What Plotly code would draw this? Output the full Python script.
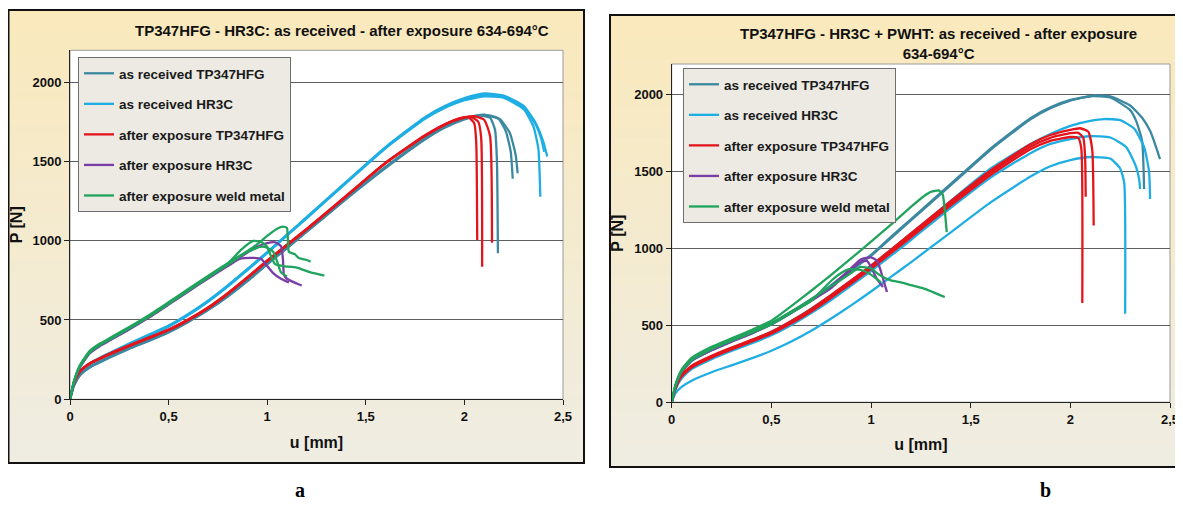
import plotly.graph_objects as go

# ---------------- DATA ----------------
# Panel a : TP347HFG - HR3C, as received / after exposure
a_recv_tp_u = [
    [0, 0.02, 0.05, 0.1, 0.2, 0.3, 0.4, 0.5, 0.6, 0.7, 0.8, 0.9, 1.0, 1.2, 1.4, 1.6, 1.8, 1.9, 2.0, 2.08, 2.13, 2.155, 2.165, 2.17],
    [0, 0.02, 0.05, 0.1, 0.2, 0.3, 0.4, 0.5, 0.6, 0.7, 0.8, 0.9, 1.0, 1.2, 1.4, 1.6, 1.8, 1.9, 2.0, 2.1, 2.17, 2.21, 2.235, 2.245],
    [0, 0.02, 0.05, 0.1, 0.2, 0.3, 0.4, 0.5, 0.6, 0.7, 0.8, 0.9, 1.0, 1.2, 1.4, 1.6, 1.8, 1.9, 2.0, 2.1, 2.18, 2.23, 2.26, 2.27],
]
a_recv_tp_p = [
    [0, 85, 150, 200, 262, 318, 368, 422, 488, 562, 648, 745, 850, 1055, 1262, 1458, 1638, 1712, 1765, 1788, 1775, 1700, 1500, 920],
    [0, 90, 155, 205, 268, 324, 374, 428, 494, 568, 654, 752, 856, 1062, 1268, 1465, 1645, 1720, 1772, 1795, 1772, 1690, 1560, 1390],
    [0, 88, 152, 202, 265, 321, 371, 425, 491, 565, 651, 748, 853, 1058, 1265, 1462, 1642, 1716, 1768, 1792, 1765, 1680, 1540, 1425],
]
a_recv_hr_u = [
    [0, 0.02, 0.05, 0.1, 0.2, 0.3, 0.4, 0.5, 0.6, 0.7, 0.8, 0.9, 1.0, 1.1, 1.2, 1.4, 1.6, 1.8, 1.9, 2.0, 2.1, 2.2, 2.3, 2.36, 2.4, 2.42],
    [0, 0.02, 0.05, 0.1, 0.2, 0.3, 0.4, 0.5, 0.6, 0.7, 0.8, 0.9, 1.0, 1.1, 1.2, 1.4, 1.6, 1.8, 1.9, 2.0, 2.1, 2.2, 2.3, 2.35, 2.375, 2.385],
    [0, 0.02, 0.05, 0.1, 0.2, 0.3, 0.4, 0.5, 0.6, 0.7, 0.8, 0.9, 1.0, 1.1, 1.2, 1.4, 1.6, 1.8, 1.9, 2.0, 2.1, 2.2, 2.3, 2.36, 2.39, 2.405],
]
a_recv_hr_p = [
    [0, 100, 175, 228, 292, 352, 408, 465, 538, 622, 718, 822, 928, 1038, 1148, 1370, 1590, 1778, 1848, 1898, 1928, 1915, 1850, 1745, 1625, 1530],
    [0, 95, 170, 222, 286, 346, 402, 458, 531, 615, 711, 815, 921, 1031, 1141, 1363, 1582, 1768, 1836, 1885, 1910, 1900, 1830, 1720, 1580, 1277],
    [0, 98, 172, 225, 289, 349, 405, 462, 535, 619, 715, 819, 925, 1035, 1145, 1366, 1586, 1772, 1842, 1892, 1918, 1910, 1842, 1735, 1640, 1560],
]
a_exp_tp_u = [
    [0, 0.02, 0.05, 0.1, 0.2, 0.3, 0.4, 0.5, 0.6, 0.7, 0.8, 0.9, 1.0, 1.2, 1.4, 1.6, 1.8, 1.9, 1.97, 2.02, 2.05, 2.06, 2.065],
    [0, 0.02, 0.05, 0.1, 0.2, 0.3, 0.4, 0.5, 0.6, 0.7, 0.8, 0.9, 1.0, 1.2, 1.4, 1.6, 1.8, 1.9, 1.97, 2.03, 2.07, 2.085, 2.09],
    [0, 0.02, 0.05, 0.1, 0.2, 0.3, 0.4, 0.5, 0.6, 0.7, 0.8, 0.9, 1.0, 1.2, 1.4, 1.6, 1.8, 1.9, 1.97, 2.05, 2.1, 2.13, 2.14],
]
a_exp_tp_p = [
    [0, 100, 175, 225, 285, 338, 388, 438, 502, 577, 667, 768, 873, 1072, 1280, 1490, 1662, 1732, 1765, 1778, 1740, 1620, 1004],
    [0, 98, 172, 222, 282, 335, 385, 435, 499, 574, 664, 765, 870, 1070, 1278, 1488, 1660, 1730, 1770, 1782, 1750, 1650, 836],
    [0, 102, 177, 227, 287, 340, 390, 440, 504, 579, 669, 770, 875, 1074, 1282, 1492, 1664, 1734, 1768, 1785, 1762, 1660, 987],
]
a_exp_hr_u = [
    [0, 0.02, 0.05, 0.1, 0.15, 0.2, 0.3, 0.4, 0.5, 0.6, 0.7, 0.8, 0.86, 0.92, 0.97, 1.0, 1.03, 1.07, 1.11],
    [0, 0.02, 0.05, 0.1, 0.15, 0.2, 0.3, 0.4, 0.5, 0.6, 0.7, 0.8, 0.9, 0.95, 1.0, 1.04, 1.07, 1.08, 1.085, 1.1, 1.15, 1.175],
]
a_exp_hr_p = [
    [0, 105, 200, 290, 335, 370, 440, 515, 597, 680, 762, 840, 885, 892, 885, 840, 796, 760, 737],
    [0, 108, 203, 292, 338, 373, 443, 518, 600, 683, 765, 845, 925, 962, 985, 990, 965, 880, 785, 760, 730, 717],
]
a_exp_wm_u = [
    [0, 0.02, 0.05, 0.1, 0.15, 0.2, 0.3, 0.4, 0.5, 0.6, 0.7, 0.8, 0.9, 0.95, 1.0, 1.05, 1.08, 1.1, 1.105, 1.11, 1.14, 1.16, 1.2, 1.22],
    [0, 0.02, 0.05, 0.1, 0.15, 0.2, 0.3, 0.4, 0.5, 0.6, 0.7, 0.8, 0.87, 0.93, 0.97, 1.0, 1.02, 1.04, 1.08, 1.15, 1.22, 1.29],
    [0, 0.02, 0.05, 0.1, 0.15, 0.2, 0.3, 0.4, 0.5, 0.6, 0.7, 0.8, 0.9, 0.97, 1.0, 1.03, 1.05, 1.07, 1.1],
]
a_exp_wm_p = [
    [0, 115, 215, 305, 350, 385, 455, 530, 612, 695, 778, 858, 935, 978, 1030, 1075, 1088, 1080, 1000, 930, 915, 890, 878, 868],
    [0, 112, 210, 300, 345, 380, 450, 525, 607, 690, 772, 855, 945, 998, 992, 960, 900, 852, 840, 830, 800, 780],
    [0, 110, 205, 295, 340, 376, 446, 520, 602, 685, 768, 848, 930, 962, 955, 930, 870, 800, 775],
]

# Panel b : TP347HFG - HR3C + PWHT
b_recv_tp_u = [
    [0, 0.02, 0.05, 0.1, 0.2, 0.3, 0.4, 0.5, 0.6, 0.7, 0.8, 0.9, 1.0, 1.1, 1.2, 1.4, 1.6, 1.8, 1.9, 2.0, 2.1, 2.2, 2.3, 2.33, 2.36, 2.37],
    [0, 0.02, 0.05, 0.1, 0.2, 0.3, 0.4, 0.5, 0.6, 0.7, 0.8, 0.9, 1.0, 1.1, 1.2, 1.4, 1.6, 1.8, 1.9, 2.0, 2.12, 2.2, 2.3, 2.36, 2.4, 2.43, 2.45],
]
b_recv_tp_p = [
    [0, 110, 200, 272, 342, 398, 450, 510, 585, 670, 762, 862, 958, 1075, 1190, 1420, 1650, 1848, 1918, 1966, 1990, 1982, 1900, 1830, 1700, 1387],
    [0, 105, 195, 268, 338, 394, 446, 505, 580, 664, 756, 856, 952, 1068, 1183, 1412, 1642, 1840, 1912, 1962, 1995, 1990, 1930, 1850, 1765, 1660, 1581],
]
b_recv_hr_u = [
    [0, 0.02, 0.05, 0.1, 0.2, 0.3, 0.4, 0.5, 0.6, 0.7, 0.8, 0.9, 1.0, 1.1, 1.2, 1.4, 1.6, 1.8, 1.9, 2.0, 2.1, 2.17, 2.25, 2.32, 2.37, 2.395, 2.40],
    [0, 0.02, 0.05, 0.1, 0.2, 0.3, 0.4, 0.5, 0.6, 0.7, 0.8, 0.9, 1.0, 1.1, 1.2, 1.4, 1.6, 1.8, 1.9, 2.0, 2.1, 2.2, 2.28, 2.33, 2.345, 2.35],
    [0, 0.02, 0.05, 0.1, 0.2, 0.3, 0.4, 0.5, 0.6, 0.7, 0.8, 0.9, 1.0, 1.1, 1.2, 1.4, 1.6, 1.8, 1.9, 2.0, 2.1, 2.2, 2.25, 2.27, 2.275],
]
b_recv_hr_p = [
    [0, 90, 165, 228, 295, 350, 402, 458, 528, 608, 696, 790, 888, 990, 1095, 1310, 1520, 1680, 1745, 1798, 1830, 1842, 1835, 1780, 1660, 1500, 1322],
    [0, 85, 155, 215, 280, 333, 382, 435, 502, 580, 665, 758, 853, 953, 1055, 1265, 1462, 1620, 1680, 1712, 1730, 1722, 1660, 1530, 1450, 1387],
    [0, 60, 100, 140, 195, 240, 285, 335, 395, 465, 545, 630, 720, 815, 910, 1105, 1300, 1468, 1535, 1575, 1595, 1585, 1520, 1430, 576],
]
b_exp_tp_u = [
    [0, 0.02, 0.05, 0.1, 0.2, 0.3, 0.4, 0.5, 0.6, 0.7, 0.8, 0.9, 1.0, 1.1, 1.2, 1.4, 1.6, 1.8, 1.9, 2.0, 2.05, 2.09, 2.11, 2.117],
    [0, 0.02, 0.05, 0.1, 0.2, 0.3, 0.4, 0.5, 0.6, 0.7, 0.8, 0.9, 1.0, 1.1, 1.2, 1.4, 1.6, 1.8, 1.9, 2.0, 2.04, 2.065, 2.074, 2.077],
    [0, 0.02, 0.05, 0.1, 0.2, 0.3, 0.4, 0.5, 0.6, 0.7, 0.8, 0.9, 1.0, 1.1, 1.2, 1.4, 1.6, 1.8, 1.9, 2.0, 2.04, 2.055, 2.06],
]
b_exp_tp_p = [
    [0, 100, 178, 238, 302, 355, 405, 458, 528, 607, 697, 792, 888, 993, 1098, 1308, 1508, 1678, 1738, 1772, 1782, 1760, 1640, 1149],
    [0, 96, 172, 232, 296, 349, 399, 451, 520, 598, 688, 782, 878, 982, 1086, 1295, 1494, 1662, 1720, 1750, 1752, 1720, 1600, 1337],
    [0, 92, 168, 226, 290, 343, 393, 445, 513, 590, 679, 772, 867, 970, 1073, 1280, 1478, 1645, 1700, 1725, 1718, 1650, 645],
]
b_exp_hr_u = [
    [0, 0.02, 0.05, 0.1, 0.2, 0.3, 0.4, 0.5, 0.6, 0.7, 0.8, 0.9, 0.95, 1.0, 1.03, 1.05, 1.07, 1.08],
    [0, 0.02, 0.05, 0.1, 0.2, 0.3, 0.4, 0.5, 0.6, 0.7, 0.8, 0.9, 0.95, 0.98, 1.0, 1.03, 1.06],
]
b_exp_hr_p = [
    [0, 110, 200, 275, 342, 398, 452, 512, 588, 668, 752, 872, 930, 942, 920, 850, 760, 717],
    [0, 108, 198, 272, 338, 394, 448, 508, 582, 660, 742, 860, 915, 918, 880, 800, 750],
]
b_exp_wm_u = [
    [0, 0.02, 0.05, 0.1, 0.2, 0.3, 0.4, 0.5, 0.6, 0.7, 0.8, 0.9, 1.0, 1.1, 1.2, 1.26, 1.3, 1.34, 1.36, 1.37, 1.38],
    [0, 0.02, 0.05, 0.1, 0.2, 0.3, 0.4, 0.5, 0.6, 0.7, 0.8, 0.9, 0.944, 1.0, 1.03, 1.06, 1.1, 1.15, 1.2, 1.26, 1.3, 1.34, 1.37],
    [0, 0.02, 0.05, 0.1, 0.2, 0.3, 0.4, 0.5, 0.6, 0.7, 0.8, 0.85, 0.89, 0.95, 1.0, 1.03, 1.05],
]
b_exp_wm_p = [
    [0, 118, 212, 288, 360, 415, 470, 530, 625, 725, 828, 935, 1045, 1155, 1270, 1335, 1368, 1378, 1350, 1250, 1106],
    [0, 115, 205, 280, 350, 405, 458, 515, 590, 670, 755, 840, 879, 870, 840, 815, 792, 780, 762, 742, 722, 700, 684],
    [0, 112, 200, 275, 345, 400, 452, 508, 582, 660, 790, 840, 865, 860, 830, 800, 780],
]

series_names = ["as received TP347HFG", "as received HR3C", "after exposure TP347HFG",
                "after exposure HR3C", "after exposure weld metal"]
series_colors = ["#3C88A0", "#1FAEE3", "#E3141B", "#7A3DA6", "#20A35C"]

titles = ["TP347HFG - HR3C: as received - after exposure 634-694°C",
          "TP347HFG - HR3C + PWHT: as received - after exposure<br>634-694°C"]
panel_labels = ["a", "b"]
x_tickvals = [0, 0.5, 1, 1.5, 2, 2.5]
x_ticktext = ["0", "0,5", "1", "1,5", "2", "2,5"]
y_tickvals = [0, 500, 1000, 1500, 2000]

# ---------------- FIGURE ----------------
# the page body keeps an 8 px margin, so the figure is 8 px smaller and
# every target pixel position is shifted by that offset
OFF = 8
W, H = 1183 - OFF, 519 - OFF
FONT = "Liberation Sans Narrow, Arial Narrow, Liberation Sans, Arial, sans-serif"


def px(x):
    return (x - OFF) / W


def py(y):
    return 1 - (y - OFF) / H


panels = [
    dict(series=[(a_recv_tp_u, a_recv_tp_p), (a_recv_hr_u, a_recv_hr_p), (a_exp_tp_u, a_exp_tp_p),
                 (a_exp_hr_u, a_exp_hr_p), (a_exp_wm_u, a_exp_wm_p)],
         xd=[px(70), px(563)], yd=[py(399.3), py(50.3)],
         frame=(8.5, 10, 584, 463), legend=(78, 57), title=(342, 30), label=(300, 490)),
    dict(series=[(b_recv_tp_u, b_recv_tp_p), (b_recv_hr_u, b_recv_hr_p), (b_exp_tp_u, b_exp_tp_p),
                 (b_exp_hr_u, b_exp_hr_p), (b_exp_wm_u, b_exp_wm_p)],
         xd=[px(671.7), px(1170)], yd=[py(402.2), py(64)],
         frame=(610, 15, 1195, 467), legend=(683, 68), title=(938, 43), label=(1045, 490)),
]

fig = go.Figure()
shapes = []
annotations = []
layout_extra = {}

for k, pan in enumerate(panels):
    ax = "" if k == 0 else str(k + 1)
    leg = "legend" if k == 0 else "legend2"
    for s, (us, ps) in enumerate(pan["series"]):
        for c, (u, p) in enumerate(zip(us, ps)):
            fig.add_trace(go.Scatter(
                x=u, y=p, mode="lines", name=series_names[s],
                line=dict(color=series_colors[s], width=2.3, shape="spline", smoothing=0.5),
                legendgroup=f"{k}_{s}", showlegend=(c == 0), legend=leg,
                xaxis="x" + ax, yaxis="y" + ax, hoverinfo="skip"))

    # frame with vertical cream gradient
    x0, y0, x1, y1 = pan["frame"]
    top = (249, 233, 188)
    bot = (239, 236, 226)
    nb = 40
    for i in range(nb):
        t = i / (nb - 1)
        col = tuple(round(top[j] + (bot[j] - top[j]) * t) for j in range(3))
        ya = y0 + (y1 - y0) * i / nb
        yb = y0 + (y1 - y0) * (i + 1) / nb
        shapes.append(dict(type="rect", xref="paper", yref="paper", layer="below",
                           x0=px(x0), x1=px(x1), y0=py(ya), y1=py(min(yb + 0.5, y1)),
                           fillcolor="rgb(%d,%d,%d)" % col, line=dict(width=0)))
    shapes.append(dict(type="rect", xref="paper", yref="paper", layer="below",
                       x0=px(x0), x1=px(x1), y0=py(y0), y1=py(y1),
                       fillcolor="rgba(0,0,0,0)", line=dict(color="#111111", width=2)))
    # plot area
    shapes.append(dict(type="rect", xref="paper", yref="paper", layer="below",
                       x0=pan["xd"][0], x1=pan["xd"][1], y0=pan["yd"][0], y1=pan["yd"][1],
                       fillcolor="white", line=dict(color="#9a9a9a", width=1)))

    layout_extra["xaxis" + ax] = dict(
        domain=pan["xd"], range=[0, 2.5], anchor="y" + ax, automargin=False,
        tickvals=x_tickvals, ticktext=x_ticktext, showgrid=False, zeroline=False,
        showline=True, linecolor="#222222", linewidth=1, ticks="outside", ticklen=5,
        tickcolor="#222222",
        tickfont=dict(family=FONT, size=13, color="#111111", weight="bold"),
        title=dict(text="u [mm]", font=dict(family=FONT, size=16, color="#111111", weight="bold"),
                   standoff=13))
    layout_extra["yaxis" + ax] = dict(
        domain=pan["yd"], range=[0, 2200], anchor="x" + ax, automargin=False,
        tickvals=y_tickvals, showgrid=True, gridcolor="#5e5e5e", gridwidth=1, zeroline=False,
        showline=True, linecolor="#222222", linewidth=1, ticks="outside", ticklen=5,
        tickcolor="#222222",
        tickfont=dict(family=FONT, size=13, color="#111111", weight="bold"),
        title=dict(text="P [N]", font=dict(family=FONT, size=16, color="#111111", weight="bold"),
                   standoff=6))
    lx, ly = pan["legend"]
    layout_extra[leg] = dict(
        x=px(lx), y=py(ly), xanchor="left", yanchor="top",
        bgcolor="#ECEAE3", bordercolor="#6e6e6e", borderwidth=1,
        font=dict(family=FONT, size=13.5, color="#1a1a1a", weight="bold"),
        tracegroupgap=10, itemwidth=30, traceorder="grouped")

    tx, ty = pan["title"]
    annotations.append(dict(text=titles[k], x=px(tx), y=py(ty), xref="paper", yref="paper",
                            xanchor="center", yanchor="middle", showarrow=False,
                            font=dict(family=FONT, size=15, color="#111111", weight="bold")))
    lbx, lby = pan["label"]
    annotations.append(dict(text=panel_labels[k], x=px(lbx), y=py(lby), xref="paper", yref="paper",
                            xanchor="center", yanchor="middle", showarrow=False,
                            font=dict(family="Liberation Serif, Times New Roman, serif", size=20,
                                      color="#000000", weight="bold")))

fig.update_layout(
    width=W, height=H, margin=dict(l=0, r=0, t=0, b=0),
    paper_bgcolor="white", plot_bgcolor="white",
    shapes=shapes, annotations=annotations, showlegend=True,
    **layout_extra)

fig.write_html("out.html")
